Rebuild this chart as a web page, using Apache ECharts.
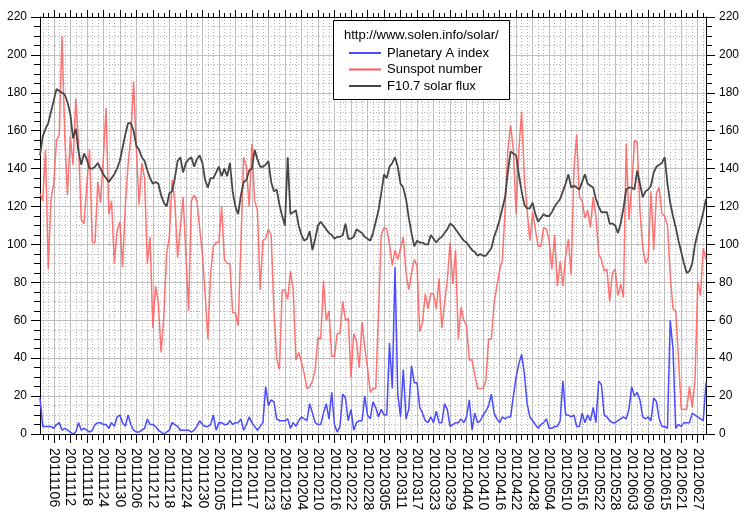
<!DOCTYPE html>
<html>
<head>
<meta charset="utf-8">
<script src="https://cdn.jsdelivr.net/npm/echarts@6/dist/echarts.min.js"></script>
<style>
  html, body { margin: 0; padding: 0; background: #fff; }
  #chart { width: 752px; height: 529px; }
</style>
</head>
<body>
<div id="chart"></div>
<script>
  // daily values, 2011-11-01 .. 2012-06-30
  const startDay = [2011, 10, 1]
  const dayCount = 243

  const seriesNames = ['Planetary A index', 'Sunspot number', 'F10.7 solar flux']
  const sourceText = 'http://www.solen.info/solar/'

  const planetaryA = [
    19, 4, 4, 4, 4, 3, 5, 6, 2, 3,
    2, 1, 0, 1, 6, 2, 3, 2, 1, 2,
    5, 6, 6, 5, 5, 3, 6, 4, 9, 10,
    6, 4, 10, 5, 2, 1, 1, 2, 3, 8,
    5, 5, 4, 2, 1, 0, 1, 2, 6, 5,
    4, 2, 2, 2, 2, 1, 2, 4, 7, 5,
    4, 4, 5, 10, 2, 6, 6, 5, 5, 7,
    5, 6, 6, 8, 2, 5, 9, 6, 4, 2,
    4, 6, 25, 15, 18, 17, 8, 7, 7, 7,
    8, 3, 6, 4, 7, 9, 8, 7, 16, 11,
    6, 5, 5, 11, 16, 8, 22, 5, 1, 4,
    21, 19, 7, 13, 2, 6, 7, 7, 20, 10,
    8, 17, 14, 9, 13, 10, 10, 48, 24, 88,
    21, 9, 34, 8, 13, 36, 27, 27, 14, 11,
    7, 6, 9, 6, 12, 6, 6, 16, 13, 4,
    5, 6, 6, 8, 6, 9, 18, 2, 11, 6,
    7, 10, 12, 15, 21, 11, 8, 6, 9, 8,
    9, 9, 20, 30, 37, 42, 32, 16, 9, 7,
    5, 3, 5, 6, 8, 3, 3, 4, 4, 7,
    28, 10, 10, 9, 10, 4, 4, 11, 6, 10,
    7, 14, 6, 28, 26, 10, 9, 7, 6, 6,
    7, 8, 9, 8, 13, 25, 20, 22, 18, 9,
    8, 9, 7, 19, 17, 8, 4, 4, 3, 60,
    45, 3, 5, 4, 6, 6, 6, 11, 10, 9,
    8, 7, 27
  ]

  const sunspots = [
    127, 123, 150, 87, 124, 132, 155, 158, 210, 157,
    126, 157, 142, 177, 153, 113, 111, 131, 150, 101,
    101, 133, 122, 145, 172, 116, 123, 90, 107, 112,
    88, 120, 142, 157, 186, 151, 121, 143, 135, 90,
    104, 56, 78, 69, 43, 62, 95, 104, 134, 123,
    93, 109, 125, 95, 65, 123, 126, 123, 109, 95,
    74, 50, 85, 99, 101, 101, 120, 92, 90, 90,
    64, 64, 57, 100, 146, 141, 120, 153, 123, 118,
    76, 102, 103, 108, 105, 65, 40, 34, 76, 76,
    71, 86, 76, 39, 43, 38, 32, 24, 25, 28,
    34, 51, 50, 81, 60, 65, 41, 41, 53, 53,
    70, 60, 61, 30, 53, 49, 35, 59, 46, 35,
    22, 24, 24, 64, 105, 109, 108, 100, 89, 97,
    92, 98, 104, 85, 76, 85, 92, 89, 54, 59,
    74, 66, 74, 74, 66, 82, 56, 69, 81, 101,
    79, 97, 50, 67, 60, 57, 39, 39, 31, 24,
    24, 24, 28, 50, 50, 69, 78, 86, 92, 118,
    150, 163, 150, 116, 150, 170, 135, 118, 102, 117,
    108, 99, 99, 109, 108, 102, 87, 105, 78, 91,
    78, 94, 103, 84, 139, 158, 125, 123, 114, 118,
    109, 125, 115, 95, 92, 86, 87, 70, 85, 87,
    73, 79, 72, 153, 113, 130, 155, 154, 118, 99,
    90, 93, 128, 97, 127, 130, 116, 115, 110, 84,
    66, 65, 40, 13, 13, 13, 25, 14, 28, 80,
    73, 98, 92
  ]

  const solarFlux = [
    147, 157, 161, 164, 170, 176, 182, 181, 180, 179,
    175, 169, 156, 161, 149, 142, 148, 145, 140, 140,
    141, 143, 140, 137, 135, 133, 135, 137, 140, 144,
    151, 158, 164, 164, 160, 152, 150, 146, 144, 139,
    135, 132, 133, 132, 126, 122, 120, 127, 128, 135,
    144, 146, 138, 143, 145, 146, 141, 145, 147, 143,
    134, 130, 135, 135, 138, 141, 136, 140, 136, 143,
    128, 120, 116, 126, 133, 134, 139, 140, 150, 145,
    141, 141, 142, 144, 133, 128, 129, 121, 115, 110,
    146, 116, 117, 118, 110, 105, 102, 103, 107, 97,
    103, 110, 112, 110, 108, 106, 105, 103, 104, 104,
    105, 111, 103, 103, 104, 108, 107, 106, 104, 103,
    102, 106, 112, 118, 127, 137, 135, 141, 143, 146,
    141, 132, 130, 124, 114, 106, 99, 102, 101, 101,
    100, 100, 105, 103, 101, 103, 104, 106, 108, 111,
    110, 108, 106, 104, 102, 101, 99, 97, 96, 94,
    95, 94, 94, 96, 98, 104, 108, 113, 119, 125,
    138, 149, 148, 147, 137, 128, 121, 119, 119, 122,
    116, 112, 114, 116, 115, 115, 117, 120, 122, 124,
    128, 132, 137, 130, 131, 130, 129, 133, 137, 132,
    131, 130, 124, 120, 117, 117, 117, 111, 111, 110,
    106, 111, 119, 129, 130, 130, 129, 139, 132, 125,
    128, 129, 131, 138, 141, 142, 143, 146, 132, 122,
    115, 109, 102, 96, 90, 85, 86, 90, 100, 106,
    111, 117, 124
  ]

  const dates = []
  for (let k = 0; k < dayCount; k++) {
    const d = new Date(Date.UTC(startDay[0], startDay[1], startDay[2] + k))
    const mm = String(d.getUTCMonth() + 1).padStart(2, '0')
    const dd = String(d.getUTCDate()).padStart(2, '0')
    dates.push(d.getUTCFullYear() + mm + dd)
  }

  const fontName = 'Liberation Sans, Arial, sans-serif'
  const isMajor = (i) => i >= 5 && (i - 5) % 6 === 0
  const isMinor = (i) => i % 2 === 1

  function xAxisCfg (pos, tickFn, tickLen, withLabels) {
    return {
      type: 'category',
      position: pos,
      data: dates,
      boundaryGap: false,
      axisLine: { show: true, onZero: false, lineStyle: { color: '#000', width: 1 } },
      axisTick: { show: true, interval: tickFn, length: tickLen, lineStyle: { color: '#000' } },
      axisLabel: withLabels ? {
        show: true,
        interval: isMajor,
        rotate: -90,
        margin: 14,
        fontSize: 14,
        fontFamily: fontName,
        color: '#000'
      } : { show: false },
      splitLine: { show: false }
    }
  }

  const xMain = xAxisCfg('bottom', isMajor, 9, true)
  xMain.splitLine = { show: true, interval: isMajor, lineStyle: { color: '#c0c0c0', width: 1 } }
  const xMinor = xAxisCfg('bottom', isMinor, 6, false)
  xMinor.splitLine = { show: true, interval: isMinor, lineStyle: { color: '#b4b4b4', width: 1, type: [1, 2] } }

  function yAxisCfg (pos) {
    return {
      type: 'value',
      position: pos,
      min: 0,
      max: 220,
      interval: 20,
      axisLine: { show: true, lineStyle: { color: '#000', width: 1 } },
      axisTick: { show: true, length: 9, lineStyle: { color: '#000' } },
      minorTick: { show: true, splitNumber: 4, length: 6, lineStyle: { color: '#000' } },
      axisLabel: { color: '#000', fontSize: 12, fontFamily: fontName, margin: 13 },
      splitLine: { show: pos === 'left', lineStyle: { color: '#c0c0c0', width: 1 } },
      minorSplitLine: { show: pos === 'left', lineStyle: { color: '#b4b4b4', width: 1, type: [1, 2] } }
    }
  }

  const chart = echarts.init(document.getElementById('chart'))

  chart.setOption({
    backgroundColor: '#fff',
    animation: false,
    grid: { left: 40, right: 46, top: 17, bottom: 95, containLabel: false, outerBoundsMode: 'none' },
    xAxis: [
      xMain,
      xMinor,
      xAxisCfg('top', isMajor, 7, false),
      xAxisCfg('top', isMinor, 4, false)
    ],
    yAxis: [yAxisCfg('left'), yAxisCfg('right')],
    legend: {
      orient: 'vertical',
      left: 344,
      top: 41,
      z: 20,
      icon: 'rect',
      itemWidth: 32,
      itemHeight: 2,
      itemGap: 2.5,
      textStyle: { fontSize: 13, fontFamily: fontName, color: '#000', lineHeight: 14, padding: [0, 0, 0, 1] },
      data: seriesNames
    },
    graphic: [
      {
        type: 'rect',
        left: 333,
        top: 20,
        z: 10,
        shape: { width: 176, height: 79 },
        style: { fill: '#fff', stroke: '#000', lineWidth: 1 }
      },
      {
        type: 'text',
        left: 344,
        top: 29,
        z: 11,
        style: { text: sourceText, fill: '#000', font: '13px ' + fontName }
      }
    ],
    series: [
      {
        name: seriesNames[0],
        type: 'line',
        data: planetaryA,
        symbol: 'none',
        color: '#4a4aff',
        lineStyle: { width: 1.5 }
      },
      {
        name: seriesNames[1],
        type: 'line',
        data: sunspots,
        symbol: 'none',
        color: '#ff5a5a',
        lineStyle: { width: 1.5, opacity: 0.85 }
      },
      {
        name: seriesNames[2],
        type: 'line',
        data: solarFlux,
        symbol: 'none',
        color: '#474747',
        lineStyle: { width: 1.8 }
      }
    ]
  })
</script>
</body>
</html>
